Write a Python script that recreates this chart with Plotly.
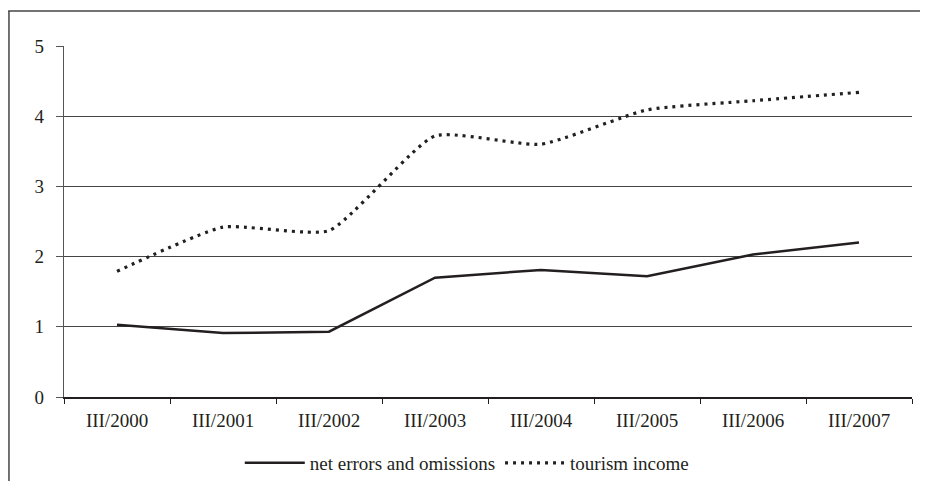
import plotly.graph_objects as go

categories = ["III/2000", "III/2001", "III/2002", "III/2003", "III/2004", "III/2005", "III/2006", "III/2007"]
net_errors = [1.03, 0.91, 0.93, 1.70, 1.81, 1.72, 2.03, 2.20]
tourism = [1.79, 2.42, 2.37, 3.72, 3.60, 4.09, 4.22, 4.34]
y_ticks = [0, 1, 2, 3, 4, 5]

FONT = "Liberation Serif"

fig = go.Figure()
fig.add_trace(go.Scatter(
    x=categories, y=net_errors, name="net errors and omissions",
    mode="lines", line=dict(color="#231f20", width=2.5)))
fig.add_trace(go.Scatter(
    x=categories, y=tourism, name="tourism income",
    mode="lines", line=dict(color="#231f20", width=3.2, dash="3px,5px",
                            shape="spline", smoothing=0.5)))

# page body has an 8px margin: figure is sized/offset to compensate
fig.update_layout(
    width=912, height=473,
    margin=dict(l=56, r=8, t=38, b=84, autoexpand=False),
    paper_bgcolor="white", plot_bgcolor="white",
    font=dict(family=FONT, size=19, color="#231f20"),
    showlegend=True,
    legend=dict(orientation="h", x=0.475, xanchor="center", y=-0.188, yanchor="middle",
                font=dict(family=FONT, size=19, color="#231f20"),
                itemwidth=60, tracegroupgap=0),
    shapes=[
        dict(type="line", xref="paper", yref="paper", x0=-0.0649, x1=-0.0649, y0=1.0997, y1=-0.24,
             line=dict(color="#444", width=1.5)),
        dict(type="rect", xref="paper", yref="paper", x0=-0.0658, x1=1.0094,
             y0=1.0977, y1=1.1017, fillcolor="#444", line=dict(width=0)),
    ],
)
fig.update_xaxes(
    type="category", tickson="boundaries", ticks="outside", ticklen=5, tickcolor="#231f20",
    showline=True, linecolor="#231f20", linewidth=1.5, showgrid=False, ticklabelstandoff=5,
    tickfont=dict(family=FONT, size=19, color="#231f20"), range=[-0.5, 7.5])
fig.update_yaxes(
    range=[0, 5], tickvals=y_ticks, ticks="outside", ticklen=7, tickcolor="#555",
    showline=True, linecolor="#555", linewidth=1.2, ticklabelstandoff=8,
    showgrid=True, gridcolor="#444", gridwidth=1.2, zeroline=False,
    tickfont=dict(family=FONT, size=19, color="#231f20"))

fig.write_html("out.html")
